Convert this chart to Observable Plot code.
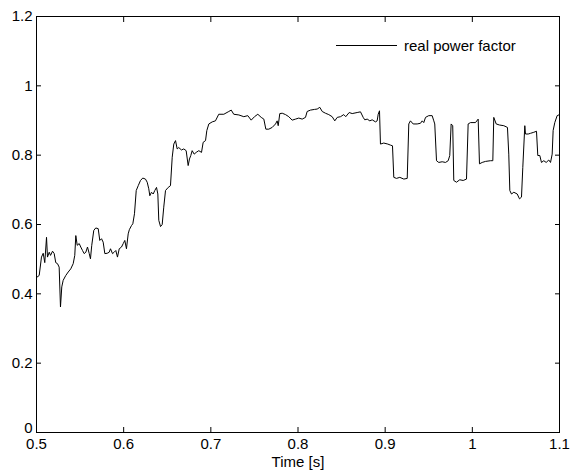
<!DOCTYPE html>
<html><head><meta charset="utf-8">
<script src="https://cdn.jsdelivr.net/npm/d3@7"></script>
<script src="https://cdn.jsdelivr.net/npm/@observablehq/plot@0.6"></script>
<style>
body{margin:0;background:#fff;overflow:hidden;}
#wrap{position:relative;width:570px;height:472px;font-family:"Liberation Sans",Arial,sans-serif;}
#legend{position:absolute;left:336px;top:36px;height:18px;display:flex;align-items:center;font-size:15px;color:#000;}
#legend span.l{display:inline-block;width:61px;height:0;border-top:1px solid #000;margin-right:7px;}
</style></head><body>
<div id="wrap"><div id="chart"></div><div id="legend"><span class="l"></span><span id="legtext"></span></div></div>
<script>
const seriesName = "real power factor";
const xLabel = "Time [s]";
const xTicks = [0.5, 0.6, 0.7, 0.8, 0.9, 1.0, 1.1];
const yTicks = [0, 0.2, 0.4, 0.6, 0.8, 1.0, 1.2];
const time = [0.5,0.5031,0.5057,0.5077,0.5095,0.5115,0.5126,0.5146,0.5161,0.5184,0.5203,0.5221,0.5241,0.526,0.5275,0.529,0.5306,0.5336,0.5364,0.5393,0.5421,0.5439,0.5451,0.5467,0.549,0.5508,0.5528,0.5547,0.5566,0.5585,0.5605,0.5619,0.5634,0.5657,0.568,0.5708,0.5726,0.5746,0.5765,0.5784,0.5811,0.5834,0.5849,0.5872,0.5891,0.591,0.5929,0.5949,0.5975,0.5995,0.6013,0.6032,0.6052,0.6065,0.609,0.6105,0.6124,0.6144,0.6167,0.6193,0.6219,0.625,0.627,0.6288,0.63,0.6319,0.6339,0.6357,0.6377,0.6392,0.6403,0.6423,0.6442,0.646,0.648,0.6511,0.6537,0.6557,0.6575,0.6595,0.6614,0.6632,0.6663,0.669,0.6717,0.674,0.6755,0.677,0.6786,0.6809,0.6832,0.6862,0.6893,0.6912,0.6939,0.6954,0.6977,0.7016,0.7053,0.7091,0.7149,0.7206,0.7234,0.7263,0.7321,0.7378,0.7424,0.7463,0.7501,0.7539,0.7578,0.7608,0.7631,0.7665,0.7704,0.7742,0.7761,0.7773,0.7791,0.7819,0.7857,0.7894,0.7933,0.7971,0.8009,0.8048,0.8086,0.8105,0.8143,0.8189,0.822,0.825,0.8278,0.8315,0.8353,0.8392,0.8422,0.845,0.8488,0.8525,0.8548,0.8587,0.8622,0.8679,0.8717,0.8748,0.8766,0.8794,0.8824,0.8851,0.8889,0.8908,0.892,0.8935,0.8946,0.8984,0.903,0.9061,0.9084,0.9099,0.913,0.9168,0.9214,0.9253,0.9271,0.929,0.9321,0.9367,0.9405,0.9425,0.9443,0.9463,0.95,0.9539,0.9558,0.9569,0.9589,0.9615,0.9654,0.9692,0.9723,0.9741,0.9757,0.9775,0.9787,0.9818,0.9856,0.9895,0.9933,0.9952,0.9979,1.0036,1.0067,1.0082,1.0113,1.0151,1.0208,1.0235,1.0246,1.0274,1.0311,1.0361,1.0403,1.0418,1.043,1.0449,1.0476,1.0515,1.0541,1.0564,1.0579,1.0602,1.061,1.0641,1.0667,1.0705,1.0736,1.0751,1.0774,1.0793,1.082,1.0847,1.0877,1.0897,1.0916,1.0927,1.0946,1.0973,1.1];
const powerFactor = [0.447,0.453,0.506,0.517,0.49,0.563,0.506,0.52,0.511,0.523,0.516,0.49,0.487,0.477,0.362,0.42,0.439,0.453,0.463,0.472,0.487,0.511,0.568,0.54,0.545,0.535,0.525,0.516,0.52,0.535,0.516,0.501,0.54,0.583,0.59,0.588,0.554,0.559,0.549,0.516,0.517,0.52,0.53,0.516,0.52,0.525,0.506,0.53,0.535,0.545,0.554,0.53,0.573,0.585,0.597,0.602,0.631,0.698,0.712,0.727,0.734,0.731,0.722,0.703,0.683,0.693,0.688,0.698,0.707,0.688,0.612,0.594,0.6,0.65,0.698,0.707,0.712,0.794,0.832,0.842,0.818,0.822,0.815,0.818,0.813,0.77,0.789,0.799,0.813,0.803,0.808,0.813,0.808,0.837,0.842,0.871,0.89,0.896,0.899,0.918,0.918,0.926,0.93,0.918,0.916,0.911,0.914,0.901,0.911,0.918,0.909,0.904,0.875,0.875,0.88,0.89,0.899,0.885,0.92,0.921,0.917,0.911,0.901,0.904,0.907,0.904,0.909,0.926,0.93,0.932,0.933,0.938,0.926,0.921,0.917,0.911,0.899,0.909,0.911,0.917,0.911,0.923,0.92,0.923,0.925,0.909,0.902,0.904,0.899,0.902,0.896,0.899,0.918,0.928,0.832,0.835,0.832,0.829,0.827,0.736,0.733,0.736,0.731,0.733,0.89,0.899,0.89,0.89,0.892,0.899,0.894,0.909,0.914,0.914,0.899,0.89,0.784,0.779,0.781,0.779,0.784,0.799,0.89,0.885,0.727,0.722,0.729,0.727,0.731,0.89,0.894,0.894,0.904,0.775,0.779,0.782,0.784,0.784,0.909,0.89,0.887,0.885,0.88,0.803,0.698,0.688,0.693,0.688,0.674,0.679,0.765,0.885,0.861,0.861,0.863,0.866,0.869,0.799,0.799,0.779,0.784,0.779,0.786,0.779,0.803,0.871,0.894,0.914,0.917];

const data = time.map((t, i) => ({t, v: powerFactor[i]}));
const fmt = d => String(+d.toFixed(2));
document.getElementById("legtext").textContent = seriesName;

const chart = Plot.plot({
  width: 570,
  height: 472,
  marginLeft: 36,
  marginRight: 11,
  marginTop: 16,
  marginBottom: 40,
  style: {fontFamily: "'Liberation Sans', Arial, sans-serif", fontSize: "15px", color: "#000", background: "#fff"},
  x: {domain: [0.5, 1.1]},
  y: {domain: [0, 1.2]},
  marks: [
    Plot.frame({stroke: "#000", strokeWidth: 1}),
    Plot.axisX({anchor: "bottom", ticks: xTicks, tickSize: -5, text: null, label: null}),
    Plot.axisX({anchor: "top", ticks: xTicks, tickSize: -5, text: null, label: null}),
    Plot.axisX({anchor: "bottom", ticks: xTicks, tickSize: 0, tickPadding: 6, tickFormat: fmt, label: xLabel, labelAnchor: "center", labelArrow: "none", labelOffset: 34}),
    Plot.axisY({anchor: "left", ticks: yTicks, tickSize: -5, text: null, label: null}),
    Plot.axisY({anchor: "right", ticks: yTicks, tickSize: -5, text: null, label: null}),
    Plot.axisY({anchor: "left", ticks: yTicks.slice(1), tickSize: 0, tickPadding: 4, tickFormat: fmt, label: null}),
    Plot.axisY({anchor: "left", ticks: yTicks.slice(0, 1), tickSize: 0, tickPadding: 4, tickFormat: fmt, label: null, dy: -4}),
    Plot.line(data, {x: "t", y: "v", stroke: "#000", strokeWidth: 1})
  ]
});
document.getElementById("chart").append(chart);
</script>
</body></html>
